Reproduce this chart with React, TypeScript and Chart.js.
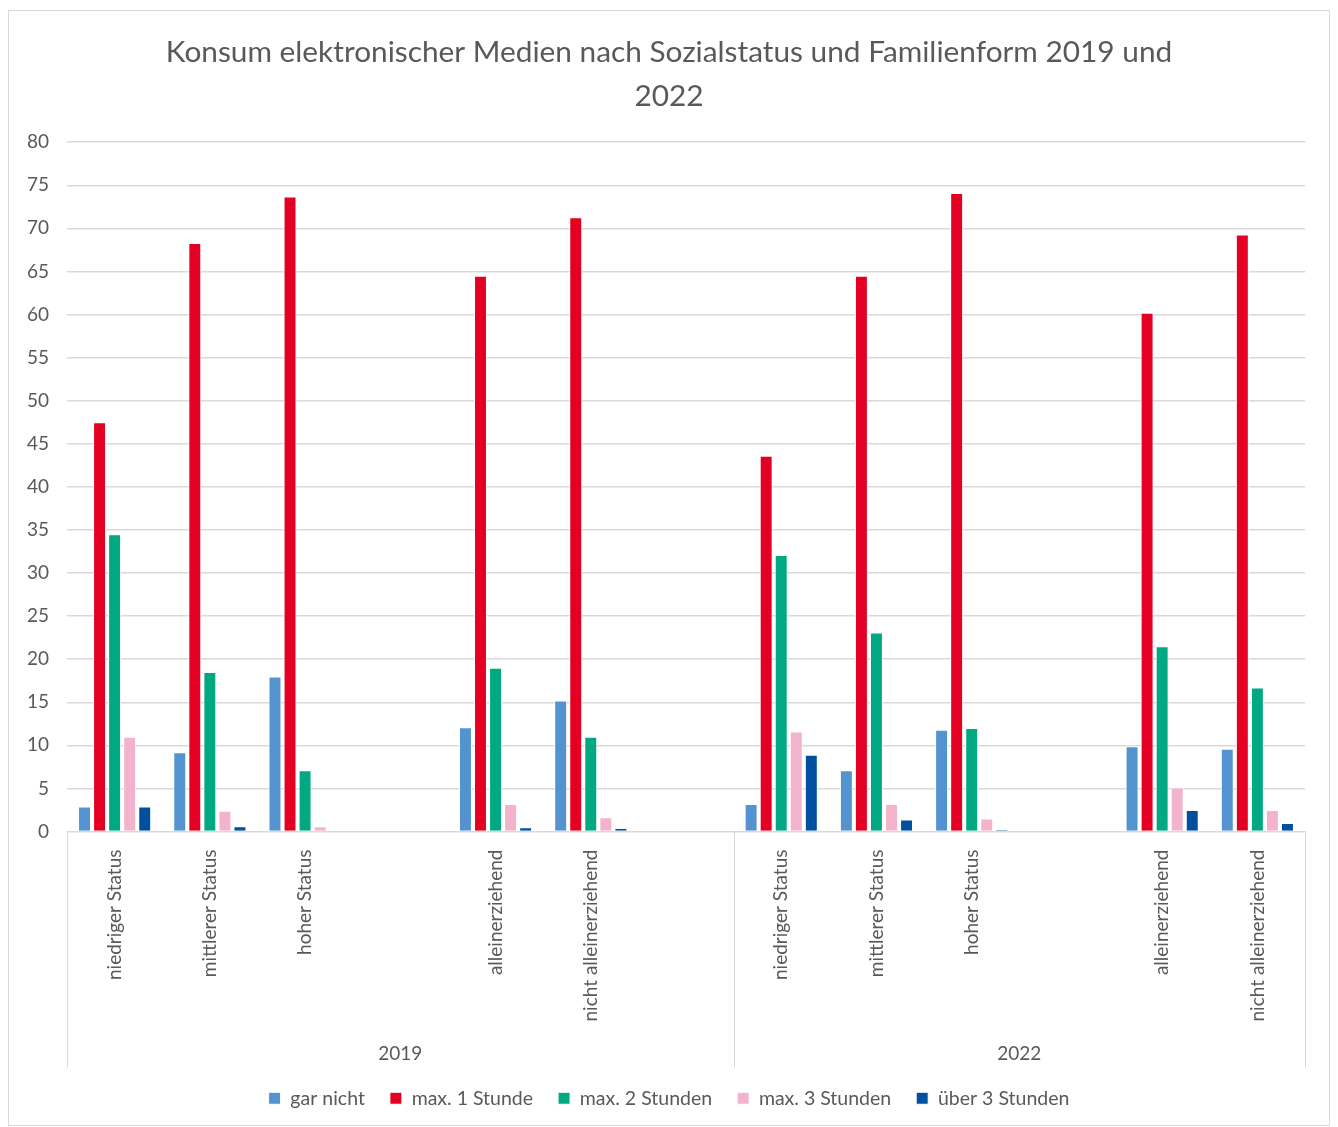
import React, { useEffect, useRef } from "react";
import { Chart, registerables } from "chart.js";

Chart.register(...registerables);

const categories = [
  "niedriger Status", "mittlerer Status", "hoher Status", "", "alleinerziehend", "nicht alleinerziehend", "",
  "niedriger Status", "mittlerer Status", "hoher Status", "", "alleinerziehend", "nicht alleinerziehend",
];
const groupLabels = ["2019", "2022"];
const groupSizes = [7, 6];

const garNicht = [2.9, 9.2, 18.0, null, 12.1, 15.2, null, 3.2, 7.1, 11.8, null, 9.9, 9.6];
const max1Stunde = [47.5, 68.3, 73.7, null, 64.5, 71.3, null, 43.6, 64.5, 74.1, null, 60.2, 69.3];
const max2Stunden = [34.5, 18.5, 7.1, null, 19.0, 11.0, null, 32.1, 23.1, 12.0, null, 21.5, 16.7];
const max3Stunden = [11.0, 2.4, 0.6, null, 3.2, 1.65, null, 11.6, 3.2, 1.5, null, 5.1, 2.5];
const ueber3Stunden = [2.9, 0.6, 0, null, 0.5, 0.4, null, 8.9, 1.4, 0.2, null, 2.5, 1.0];

const seriesNames = ["gar nicht", "max. 1 Stunde", "max. 2 Stunden", "max. 3 Stunden", "über 3 Stunden"];
const seriesColors = ["#5393D0", "#E30022", "#00A982", "#F4B3CC", "#00509F"];

const FONT = "Lato, 'Open Sans', sans-serif";
const TEXT = "#595959";
const GRID = "#D9D9D9";

const groupPlugin = {
  id: "groupPlugin",
  afterDraw(chart: any) {
    const { ctx, chartArea } = chart;
    const x = chart.scales.x;
    const n = categories.length;
    const slot = (x.right - x.left) / n;
    const top = chartArea.bottom;
    const bottom = chartArea.bottom + 236;
    ctx.save();
    ctx.strokeStyle = GRID;
    ctx.lineWidth = 1;
    let idx = 0;
    const edges: number[] = [x.left];
    groupSizes.forEach((s) => {
      idx += s;
      edges.push(x.left + idx * slot);
    });
    edges.forEach((e) => {
      const px = Math.round(e) + 0.5;
      ctx.beginPath();
      ctx.moveTo(px, top);
      ctx.lineTo(px, bottom);
      ctx.stroke();
    });
    ctx.fillStyle = TEXT;
    ctx.font = `19px ${FONT}`;
    ctx.textAlign = "center";
    ctx.textBaseline = "middle";
    groupLabels.forEach((g, i) => {
      ctx.fillText(g, (edges[i] + edges[i + 1]) / 2, chartArea.bottom + 222);
    });
    ctx.restore();
  },
};

export default function App() {
  const ref = useRef<HTMLCanvasElement | null>(null);
  useEffect(() => {
    if (!ref.current) return;
    const data = [garNicht, max1Stunde, max2Stunden, max3Stunden, ueber3Stunden];
    const chart = new Chart(ref.current, {
      type: "bar",
      data: {
        labels: categories,
        datasets: data.map((d, i) => ({
          label: seriesNames[i],
          data: d,
          backgroundColor: seriesColors[i],
          borderColor: "#FFFFFF",
          borderWidth: 1,
          borderSkipped: "start",
          categoryPercentage: 0.79,
          barPercentage: 0.86,
        })),
      },
      options: {
        animation: false,
        responsive: true,
        maintainAspectRatio: false,
        layout: { padding: { left: 0, right: 0, top: 0, bottom: 7 } },
        plugins: {
          title: {
            display: true,
            text: ["Konsum elektronischer Medien nach Sozialstatus und Familienform 2019 und", "2022"],
            color: TEXT,
            font: { family: FONT, size: 29.8, weight: "normal", lineHeight: 1.48 },
            padding: { top: 19, bottom: 24 },
          },
          legend: {
            position: "bottom",
            labels: {
              color: TEXT,
              font: { family: FONT, size: 19.5 },
              boxWidth: 12,
              boxHeight: 12,
              padding: 25,
            },
          },
          tooltip: { enabled: false },
        },
        scales: {
          x: {
            grid: { display: false },
            border: { display: true, color: GRID },
            ticks: {
              color: TEXT,
              font: { family: FONT, size: 19 },
              minRotation: 90,
              maxRotation: 90,
              autoSkip: false,
              padding: 10,
            },
            afterFit(scale: any) {
              scale.height = 232;
            },
          },
          y: {
            min: 0,
            max: 80,
            ticks: {
              stepSize: 5,
              color: TEXT,
              font: { family: FONT, size: 19 },
              padding: 18,
            },
            grid: { color: GRID, lineWidth: 1.5, drawTicks: false },
            border: { display: false },
            afterFit(scale: any) {
              scale.width = 58;
            },
          },
          yRight: {
            position: "right",
            min: 0,
            max: 80,
            ticks: { display: false },
            grid: { display: false, drawTicks: false },
            border: { display: false },
            afterFit(scale: any) {
              scale.width = 24;
            },
          },
        },
      },
      plugins: [groupPlugin],
    });
    return () => chart.destroy();
  }, []);
  return (
    <div
      style={{
        width: 1322,
        height: 1116,
        border: "1px solid #D9D9D9",
        marginTop: 2,
        boxSizing: "border-box",
        background: "#fff",
      }}
    >
      <canvas ref={ref} />
    </div>
  );
}
